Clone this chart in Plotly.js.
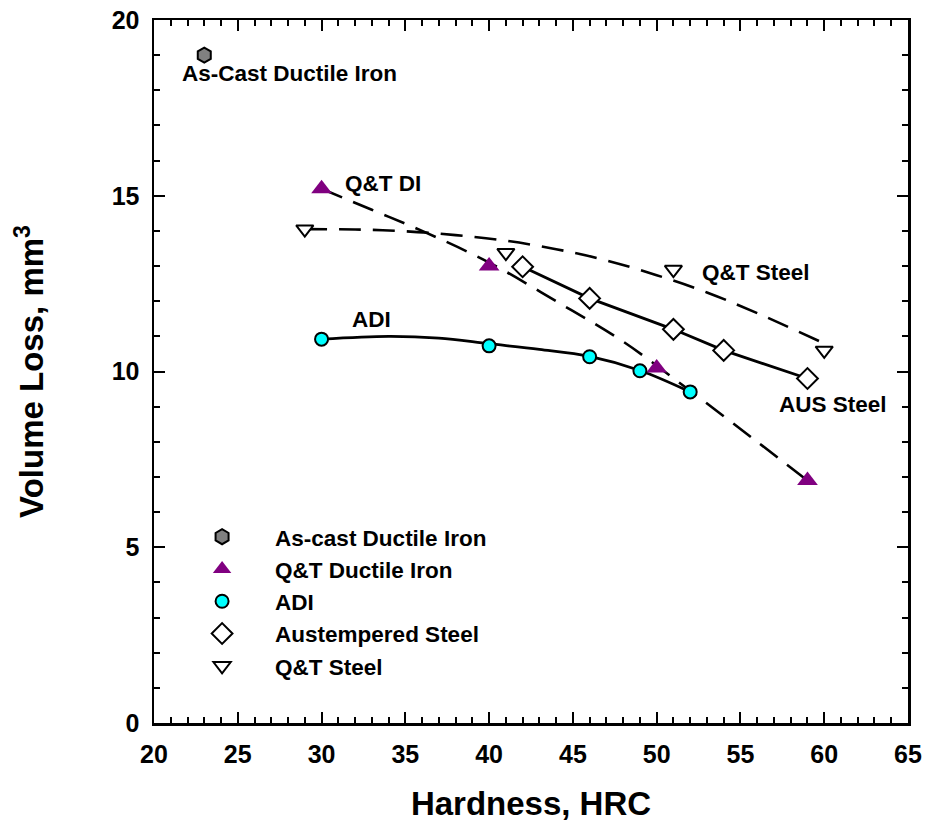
<!DOCTYPE html>
<html><head><meta charset="utf-8">
<script src="https://cdn.plot.ly/plotly-3.0.1.min.js"></script>
<style>html,body{margin:0;padding:0;background:#fff}#chart{width:929px;height:823px}</style>
</head><body><div id="chart"></div>
<script>
// measured points
const asCastX = [23], asCastY = [19.0];
const qtdiX = [30, 40, 50, 59], qtdiY = [15.2, 13.0, 10.1, 6.9];
const adiX = [30, 40, 46, 49, 52], adiY = [10.92, 10.73, 10.42, 10.02, 9.42];
const ausX = [42, 46, 51, 54, 59], ausY = [12.98, 12.08, 11.2, 10.6, 9.8];
const qtsX = [29, 41, 51, 60], qtsY = [14.05, 13.38, 12.9, 10.6];
// fitted curves
const qtdiFitX = [30, 33, 36, 40, 44, 48, 52, 56, 59];
const qtdiFitY = [15.2, 14.6, 14.0, 13.1, 12.0, 10.85, 9.45, 8.0, 6.9];
const adiFitX = [30, 34, 37, 40, 43, 46, 49, 52];
const adiFitY = [10.92, 11.0, 10.95, 10.79, 10.63, 10.43, 10.03, 9.42];
const qtsFitX = [29, 32, 35, 38, 41, 44, 47, 50, 53, 56, 60];
const qtsFitY = [14.05, 14.04, 13.99, 13.88, 13.72, 13.48, 13.16, 12.74, 12.25, 11.66, 10.8];
// names
const seriesNames = ['As-cast Ductile Iron', 'Q&T Ductile Iron', 'ADI', 'Austempered Steel', 'Q&T Steel'];
const xTickVals = [20, 25, 30, 35, 40, 45, 50, 55, 60, 65];
const yTickVals = [0, 5, 10, 15, 20];

const FONT = 'Liberation Sans, Arial, Helvetica, sans-serif';
const dashed = {color: 'black', width: 2.6, dash: '22px,12px', shape: 'spline'};
const solid = {color: 'black', width: 2.8, shape: 'spline'};

const traces = [
  {x: qtdiFitX, y: qtdiFitY, mode: 'lines', line: dashed, showlegend: false, hoverinfo: 'skip'},
  {x: qtsFitX, y: qtsFitY, mode: 'lines', line: dashed, showlegend: false, hoverinfo: 'skip'},
  {x: adiFitX, y: adiFitY, mode: 'lines', line: solid, showlegend: false, hoverinfo: 'skip'},
  {x: ausX, y: ausY, mode: 'lines', line: {color: 'black', width: 2.8}, showlegend: false, hoverinfo: 'skip'},
  {x: asCastX, y: asCastY, mode: 'markers', name: seriesNames[0],
   marker: {symbol: 'hexagon', size: 15, color: '#808080', line: {color: 'black', width: 2}}},
  {x: qtdiX, y: qtdiY, mode: 'markers', name: seriesNames[1],
   marker: {symbol: 'triangle-up', size: 18, color: '#800080', line: {width: 0}}},
  {x: adiX, y: adiY, mode: 'markers', name: seriesNames[2],
   marker: {symbol: 'circle', size: 13, color: '#00FFFF', line: {color: 'black', width: 2}}},
  {x: ausX, y: ausY, mode: 'markers', name: seriesNames[3],
   marker: {symbol: 'diamond', size: 16, color: 'white', line: {color: 'black', width: 2}}},
  {x: qtsX, y: qtsY, mode: 'markers', name: seriesNames[4],
   marker: {symbol: 'triangle-down', size: 15, color: 'white', line: {color: 'black', width: 2}}}
];

const axisCommon = {
  showgrid: false, zeroline: false, showline: true, linecolor: 'black', linewidth: 2.5,
  mirror: 'ticks', ticks: 'inside', ticklen: 11, tickwidth: 2, tickcolor: 'black',
  minor: {dtick: 1, ticks: 'inside', ticklen: 6, tickwidth: 2, tickcolor: 'black'},
  tickfont: {family: FONT, size: 25, color: 'black', weight: 'bold'}
};

const annFont = {family: FONT, size: 22.5, color: 'black', weight: 'bold'};
const layout = {
  width: 929, height: 823,
  margin: {l: 154, r: 21, t: 20, b: 100},
  paper_bgcolor: 'white', plot_bgcolor: 'white',
  font: {family: FONT, color: 'black'},
  xaxis: Object.assign({}, axisCommon, {
    range: [20, 65], tickvals: xTickVals, ticklabelstandoff: 7,
    title: {text: 'Hardness, HRC', font: {family: FONT, size: 33, color: 'black', weight: 'bold'}, standoff: 26}
  }),
  yaxis: Object.assign({}, axisCommon, {
    range: [0, 20], tickvals: yTickVals, ticklabelstandoff: 7,
    title: {text: 'Volume Loss, mm<sup>3</sup>', font: {family: FONT, size: 33, color: 'black', weight: 'bold'}, standoff: 58}
  }),
  legend: {
    x: 0.02, y: 0.295, xanchor: 'left', yanchor: 'top',
    bgcolor: 'rgba(0,0,0,0)', borderwidth: 0, itemwidth: 96,
    font: {family: FONT, size: 22.5, color: 'black', weight: 'bold'}
  },
  annotations: [
    {x: 28.1, y: 18.49, text: 'As-Cast Ductile Iron', showarrow: false, xanchor: 'center', font: annFont},
    {x: 31.3, y: 15.36, text: 'Q&T DI', showarrow: false, xanchor: 'left', font: annFont},
    {x: 52.6, y: 12.83, text: 'Q&T Steel', showarrow: false, xanchor: 'left', font: annFont},
    {x: 31.7, y: 11.47, text: 'ADI', showarrow: false, xanchor: 'left', font: annFont},
    {x: 57.2, y: 9.05, text: 'AUS Steel', showarrow: false, xanchor: 'left', font: annFont}
  ]
};

Plotly.newPlot('chart', traces, layout, {displayModeBar: false, staticPlot: true});
</script>
</body></html>
